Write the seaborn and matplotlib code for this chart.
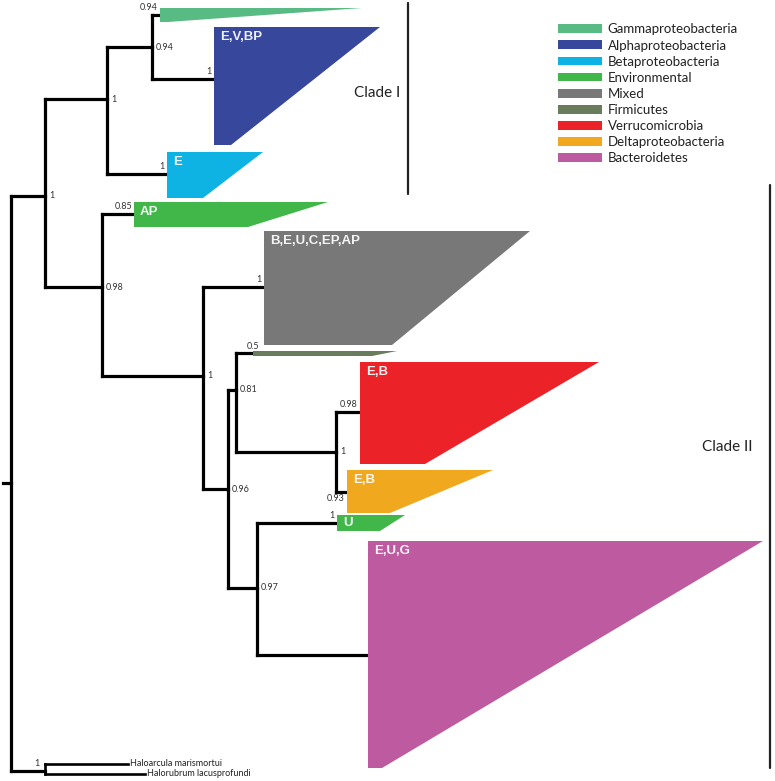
import matplotlib
matplotlib.use("Agg")
import matplotlib.pyplot as plt
from matplotlib.patches import Polygon, Patch
import seaborn as sns

###################################################################################
# tree data (branch depth / tip position in pixel units)
###################################################################################
node_names = ['root', 'A', 'B', 'C', 'D', 'E', 'F', 'G', 'H', 'I', 'J',
              'gamma', 'alpha', 'beta', 'envAP', 'mixed', 'firm', 'verr', 'delta', 'envU', 'bact',
              'halo1', 'halo2']
node_parent = [None, 'root', 'A', 'B', 'A', 'D', 'E', 'F', 'G', 'F', 'root',
               'C', 'C', 'B', 'D', 'E', 'G', 'H', 'H', 'I', 'I',
               'J', 'J']
node_depth = [11, 45, 107, 152, 102, 203, 228, 236, 336, 257, 45,
              160, 214, 167, 134, 264, 253, 360, 347, 337, 368,
              128, 145]
node_pos = [483, 196, 99, 47, 287, 376, 489, 390, 452, 588, 771,
            15, 79, 174, 214, 287, 353, 412, 492, 523, 655,
            764, 774]
node_support = [None, '1', '1', '0.94', '0.98', '1', '0.96', '0.81', '1', '0.97', '1',
                '0.94', '1', '1', '0.85', '1', '0.5', '0.98', '0.93', '1', None,
                None, None]

# collapsed clades: tip name, group, taxa tag, top / bottom edge, longest / shortest branch end
clade_tip = ['gamma', 'alpha', 'beta', 'envAP', 'mixed', 'firm', 'verr', 'delta', 'envU', 'bact']
clade_group = ['Gammaproteobacteria', 'Alphaproteobacteria', 'Betaproteobacteria', 'Environmental',
               'Mixed', 'Firmicutes', 'Verrucomicrobia', 'Deltaproteobacteria', 'Environmental',
               'Bacteroidetes']
clade_tag = ['', 'E,V,BP', 'E', 'AP', 'B,E,U,C,EP,AP', '', 'E,B', 'E,B', 'U', 'E,U,G']
clade_top = [8, 27, 152, 202, 231, 351, 362, 470, 515, 541]
clade_bottom = [22, 145, 198, 227, 345, 356, 464, 513, 531, 768]
clade_long = [362, 380, 263, 328, 530, 397, 599, 493, 405, 763]
clade_short = [168, 231, 203, 248, 392, 372, 425, 390, 380, 382]

# outgroup leaves
leaf_names = {'halo1': 'Haloarcula marismortui', 'halo2': 'Halorubrum lacusprofundi'}

# big clades
big_names = ['Clade I', 'Clade II']
big_top = [3, 185]
big_bottom = [194, 768]
big_x = [408, 770]
big_label_y = [93, 447]

legend_groups = ['Gammaproteobacteria', 'Alphaproteobacteria', 'Betaproteobacteria', 'Environmental',
                 'Mixed', 'Firmicutes', 'Verrucomicrobia', 'Deltaproteobacteria', 'Bacteroidetes']
group_colors = {'Gammaproteobacteria': '#58bb83', 'Alphaproteobacteria': '#36479c',
                'Betaproteobacteria': '#0eb2e3', 'Environmental': '#41b649',
                'Mixed': '#787878', 'Firmicutes': '#697c5c', 'Verrucomicrobia': '#ec2229',
                'Deltaproteobacteria': '#f0a81f', 'Bacteroidetes': '#bd5aa0'}

# where the support value sits relative to its node
support_side = {'gamma': 'above', 'alpha': 'above', 'beta': 'above', 'envAP': 'above',
                'mixed': 'above', 'firm': 'over', 'verr': 'above', 'delta': 'below',
                'envU': 'above', 'J': 'left'}
big_label_gap = [8, 17]

###################################################################################
sns.set_theme(style="white")
plt.rcParams['font.family'] = ['Lato', 'DejaVu Sans']

depth = dict(zip(node_names, node_depth))
pos = dict(zip(node_names, node_pos))
parent = dict(zip(node_names, node_parent))
support = dict(zip(node_names, node_support))

fig = plt.figure(figsize=(7.75, 7.81), dpi=100)
ax = fig.add_axes([0, 0, 1, 1])
ax.set_xlim(0, 775)
ax.set_ylim(781, 0)
ax.axis('off')

lw = 2.3
# horizontal branches
for n in node_names:
    p = parent[n]
    if p is None:
        ax.plot([3, depth[n]], [pos[n], pos[n]], color='black', lw=lw, solid_capstyle='projecting')
        continue
    w = 1.9 if n in leaf_names else lw
    ax.plot([depth[p], depth[n]], [pos[n], pos[n]], color='black', lw=w, solid_capstyle='projecting')

# vertical connectors
for n in node_names:
    kids = [pos[c] for c in node_names if parent[c] == n]
    if kids:
        w = 1.9 if n == 'J' else lw
        ax.plot([depth[n], depth[n]], [min(kids), max(kids)], color='black', lw=w,
                solid_capstyle='projecting')

# collapsed clades
for tip, grp, tag, top, bot, xl, xs in zip(clade_tip, clade_group, clade_tag, clade_top,
                                          clade_bottom, clade_long, clade_short):
    x0 = depth[tip]
    ax.add_patch(Polygon([(x0, top), (xl, top), (xs, bot), (x0, bot)], closed=True,
                         facecolor=group_colors[grp], edgecolor='none', zorder=3))
    if tag:
        ax.text(x0 + 6, top + min(10, (bot - top) / 2), tag, color='white', alpha=0.92,
                fontsize=9.5, fontweight='bold', family=['Liberation Sans', 'DejaVu Sans'],
                va='center', ha='left', zorder=4)

# support values
for n in node_names:
    s = support[n]
    if s is None:
        continue
    side = support_side.get(n, 'right')
    if side == 'right':
        ax.text(depth[n] + 4, pos[n], s, fontsize=6.5, color='#333333', va='center', ha='left')
    elif side == 'above':
        ax.text(depth[n] - 2, pos[n] - 3, s, fontsize=6.5, color='#333333', va='bottom', ha='right')
    elif side == 'below':
        ax.text(depth[n] - 2, pos[n] + 2, s, fontsize=6.5, color='#333333', va='top', ha='right')
    elif side == 'over':
        ax.text(depth[n] - 6, pos[n] - 2, s, fontsize=6.5, color='#333333', va='bottom', ha='left')
    elif side == 'left':
        ax.text(depth[n] - 5, pos[n] - 3, s, fontsize=6.5, color='#333333', va='bottom', ha='right')

# outgroup leaf names
for n, lab in leaf_names.items():
    ax.text(depth[n] + 2, pos[n], lab, fontsize=6.5, color='#222222', va='center', ha='left')

# big clade bars
for name, top, bot, x, ly, gap in zip(big_names, big_top, big_bottom, big_x, big_label_y, big_label_gap):
    ax.plot([x, x], [top, bot], color='#222222', lw=1.6)
    ax.text(x - gap, ly, name, fontsize=11, color='#222222', va='center', ha='right')

handles = [Patch(facecolor=group_colors[g], edgecolor='none') for g in legend_groups]
ax.legend(handles, legend_groups, loc='upper left', bbox_to_anchor=(0.72, 0.970), frameon=False,
          fontsize=9.5, handlelength=3.3, handleheight=0.65, handletextpad=0.45,
          labelspacing=0.31, borderpad=0, borderaxespad=0, labelcolor='#222222')

plt.savefig('out.png', dpi=100)
